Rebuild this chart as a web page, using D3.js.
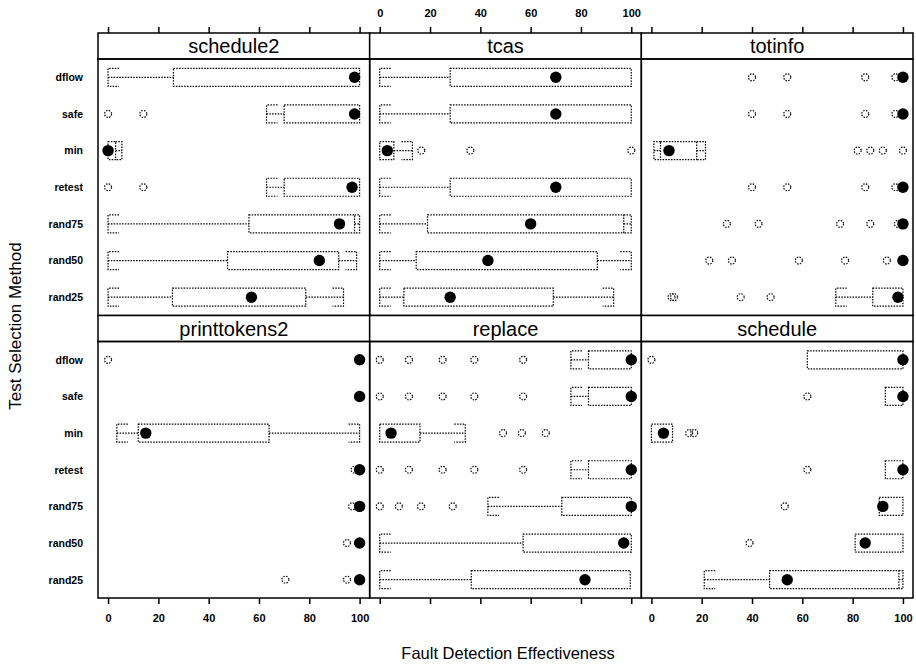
<!DOCTYPE html>
<html><head><meta charset="utf-8">
<script src="https://cdn.jsdelivr.net/npm/d3@7"></script>
<style>body{margin:0;background:#fff}svg{display:block}</style>
</head><body>
<script>
const methods = ["dflow","safe","min","retest","rand75","rand50","rand25"];
const panels = ["schedule2","tcas","totinfo","printtokens2","replace","schedule"];
const xTicks = [0,20,40,60,80,100];

// [lower whisker, q1, median, q3, upper whisker] per method
const schedule2Stats = [[0,26,98,100,100],[63,70,98,100,100],[0,0,0,3,5.5],[63,70,97,100,100],[0,56,92,98,100],[0,47.5,84,91.7,98.8],[0,25.6,57,78.6,93.6]];
const schedule2Out = [[],[0,14],[],[0,14],[],[],[]];
const tcasStats = [[0,28,70,100,100],[0,28,70,100,100],[0,0,3,5.6,13],[0,28,70,100,100],[0,19,60,97,100],[0,14.5,43,86.5,100],[0,9.6,28,69,93]];
const tcasOut = [[],[],[16.5,36,100],[],[],[],[]];
const totinfoStats = [[100,100,100,100,100],[100,100,100,100,100],[1,3.6,7,18,21.5],[100,100,100,100,100],[100,100,100,100,100],[100,100,100,100,100],[73.3,88,98,100,100]];
const totinfoOut = [[40,54,85,97],[40,54,85,97],[82,87,92,100],[40,54,85,97],[30,42.6,75,87,98],[23,32,58.6,77,93.6],[8,9,35.5,47.4]];
const printtokens2Stats = [[100,100,100,100,100],[100,100,100,100,100],[3.5,12,15,64,100],[100,100,100,100,100],[100,100,100,100,100],[100,100,100,100,100],[100,100,100,100,100]];
const printtokens2Out = [[0],[],[],[98],[97],[95],[70.5,95]];
const replaceStats = [[76,83,100,100,100],[76,83,100,100,100],[0,0,4.5,16,34],[76,83,100,100,100],[43,72.4,100,100,100],[0,57,97,100,100],[0,36.4,81.6,99.6,99.6]];
const replaceOut = [[0,11.6,25,37.6,57],[0,11.6,25,37.6,57],[49,56.5,66],[0,11.6,25,37.6,57],[0,7.6,16.4,29],[],[]];
const scheduleStats = [[62,62,100,100,100],[93,93,100,100,100],[0,0,4.8,8.4,8.4],[93,93,100,100,100],[90.6,90.6,92,100,100],[81,81,85,100,100],[21,47,54,98.4,100]];
const scheduleOut = [[0],[62],[15,17],[62],[53],[39],[]];

const statsList = [schedule2Stats,tcasStats,totinfoStats,printtokens2Stats,replaceStats,scheduleStats];
const outList = [schedule2Out,tcasOut,totinfoOut,printtokens2Out,replaceOut,scheduleOut];

const W = 916, H = 666;
const gLeft = 98, gRight = 913, gTop = 33, stripH = 26, panelH = 256.5;
const colW = (gRight - gLeft) / 3;
const svg = d3.select("body").append("svg").attr("width", W).attr("height", H)
  .style("font-family", "'Liberation Sans', Arial, sans-serif");

const dot = "1.5,1.3";
const boxH = 18, capW = 11;

panels.forEach((name, pi) => {
  const col = pi % 3, row = Math.floor(pi / 3);
  const x0 = gLeft + col * colW;
  const sTop = gTop + row * (stripH + panelH);
  const pTop = sTop + stripH;
  const x = d3.scaleLinear().domain([-4, 104]).range([x0, x0 + colW]);
  const y = d3.scalePoint().domain(methods).range([pTop, pTop + panelH]).padding(0.5);
  const g = svg.append("g");

  g.append("rect").attr("x", x0).attr("y", sTop).attr("width", colW).attr("height", stripH)
    .attr("fill", "#fff").attr("stroke", "#000").attr("stroke-width", 1.5);
  g.append("text").attr("x", x0 + colW / 2).attr("y", sTop + 20)
    .attr("text-anchor", "middle").attr("font-size", 20).text(name);
  g.append("rect").attr("x", x0).attr("y", pTop).attr("width", colW).attr("height", panelH)
    .attr("fill", "none").attr("stroke", "#000").attr("stroke-width", 1.5);

  const stats = statsList[pi], outs = outList[pi];
  methods.forEach((m, mi) => {
    const [lo, q1, med, q3, hi] = stats[mi];
    const cy = y(m);
    const gg = g.append("g").attr("fill", "none").attr("stroke", "#000")
      .attr("stroke-width", 1.2).attr("stroke-dasharray", dot);
    if (q1 > lo) {
      const c = Math.min(capW, x(q1) - x(lo));
      gg.append("line").attr("x1", x(lo)).attr("x2", x(q1)).attr("y1", cy).attr("y2", cy);
      gg.append("path").attr("d",
        `M${x(lo) + c},${cy - boxH / 2}H${x(lo)}V${cy + boxH / 2}H${x(lo) + c}`);
    }
    if (hi > q3) {
      const c = Math.min(capW, x(hi) - x(q3));
      gg.append("line").attr("x1", x(q3)).attr("x2", x(hi)).attr("y1", cy).attr("y2", cy);
      gg.append("path").attr("d",
        `M${x(hi) - c},${cy - boxH / 2}H${x(hi)}V${cy + boxH / 2}H${x(hi) - c}`);
    }
    gg.append("rect").attr("x", x(q1)).attr("y", cy - boxH / 2)
      .attr("width", Math.max(0, x(q3) - x(q1))).attr("height", boxH);
    outs[mi].forEach(v => {
      gg.append("circle").attr("cx", x(v)).attr("cy", cy).attr("r", 3.5);
    });
    g.append("circle").attr("cx", x(med)).attr("cy", cy).attr("r", 5.7).attr("fill", "#000");
  });

  if (row === 0) {
    const ax = d3.axisTop(x).tickValues(xTicks).tickSize(6).tickSizeOuter(0)
      .tickFormat(col === 1 ? d3.format("d") : "");
    const a = g.append("g").attr("transform", `translate(0,${sTop})`).call(ax);
    a.select(".domain").remove();
    a.selectAll("line").attr("stroke-width", 1.5);
    a.selectAll("text").attr("font-size", 11).attr("font-weight", "bold")
      .attr("font-family", "'Liberation Sans', Arial, sans-serif").attr("dy", "-0.6em");
  }
  if (row === 1) {
    const ax = d3.axisBottom(x).tickValues(xTicks).tickSize(6).tickSizeOuter(0)
      .tickFormat(col !== 1 ? d3.format("d") : "");
    const a = g.append("g").attr("transform", `translate(0,${pTop + panelH})`).call(ax);
    a.select(".domain").remove();
    a.selectAll("line").attr("stroke-width", 1.5);
    a.selectAll("text").attr("font-size", 11).attr("font-weight", "bold")
      .attr("font-family", "'Liberation Sans', Arial, sans-serif").attr("dy", "1.4em");
  }
  if (col === 0) {
    const ay = d3.axisLeft(y).tickSize(0).tickPadding(15);
    const a = g.append("g").attr("transform", `translate(${x0},0)`).call(ay);
    a.select(".domain").remove();
    a.selectAll("text").attr("font-size", 10.5).attr("font-weight", "bold")
      .attr("font-family", "'Liberation Sans', Arial, sans-serif");
  }
});

svg.append("text").attr("transform", "translate(21,326) rotate(-90)")
  .attr("text-anchor", "middle").attr("font-size", 17).text("Test Selection Method");
svg.append("text").attr("x", 508).attr("y", 659)
  .attr("text-anchor", "middle").attr("font-size", 16.5).text("Fault Detection Effectiveness");
</script>
</body></html>
